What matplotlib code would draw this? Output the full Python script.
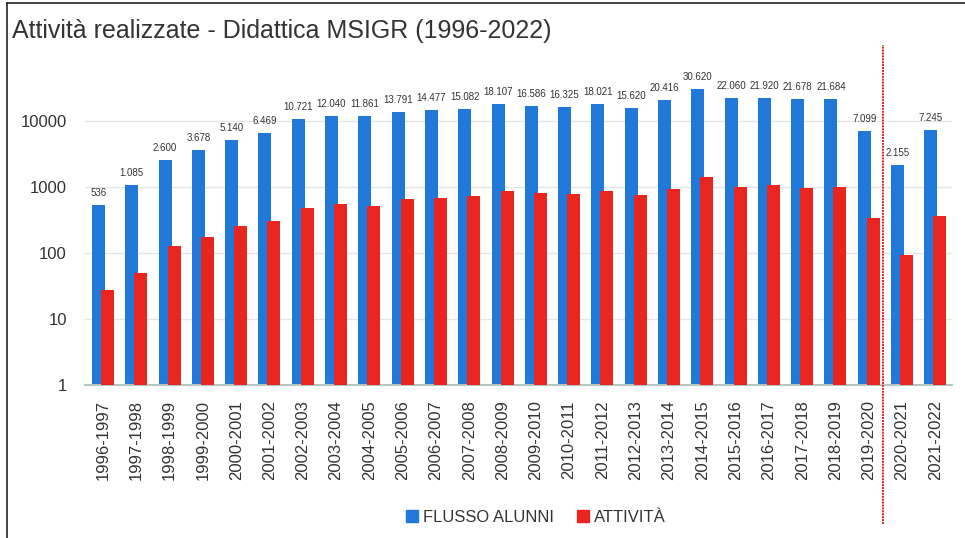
import numpy as np
import matplotlib
matplotlib.use("Agg")
import matplotlib.pyplot as plt
import matplotlib.lines as mlines
from matplotlib.patches import Patch

plt.rcParams['font.family'] = ['Liberation Sans', 'DejaVu Sans']

years = ["1996-1997", "1997-1998", "1998-1999", "1999-2000", "2000-2001",
         "2001-2002", "2002-2003", "2003-2004", "2004-2005", "2005-2006",
         "2006-2007", "2007-2008", "2008-2009", "2009-2010", "2010-2011",
         "2011-2012", "2012-2013", "2013-2014", "2014-2015", "2015-2016",
         "2016-2017", "2017-2018", "2018-2019", "2019-2020", "2020-2021",
         "2021-2022"]
alunni = [536, 1085, 2600, 3678, 5140, 6469, 10721, 12040, 11861, 13791,
          14477, 15082, 18107, 16586, 16325, 18021, 15620, 20416, 30620,
          22060, 21920, 21678, 21684, 7099, 2155, 7245]
attivita = [27, 49, 128, 173, 259, 305, 479, 552, 510, 665, 689, 722, 879,
            802, 783, 879, 748, 922, 1432, 989, 1060, 966, 989, 335, 93, 360]

blue = "#2079d9"
red = "#e8261f"

fig = plt.figure(figsize=(9.65, 5.38), dpi=100)
ax = fig.add_axes([0.0881, 0.2844, 0.8984, 0.632])

x = np.arange(len(years))
ax.bar(x - 0.135, alunni, width=0.39, color=blue, zorder=2)
ax.bar(x + 0.135, attivita, width=0.39, color=red, zorder=3)

ax.set_yscale('log')
ax.set_ylim(1, 10 ** 5.15)
ax.set_xlim(-0.54, 25.5)
ax.set_yticks([1, 10, 100, 1000, 10000])
ax.set_yticklabels(["1", "10", "100", "1000", "10000"])
ax.minorticks_off()
ax.yaxis.grid(True, color="#e6e6e6", linewidth=1, zorder=0)
ax.set_axisbelow(True)

ax.set_xticks(x)
ax.set_xticklabels(years, rotation=90, fontsize=12, color="#333333")
ax.tick_params(axis='x', length=0, pad=11)
ax.tick_params(axis='y', length=0, pad=13, labelsize=12, labelcolor="#333333")

for s in ['top', 'right', 'left']:
    ax.spines[s].set_visible(False)
ax.spines['bottom'].set_color("#b5c7c3")
ax.spines['bottom'].set_linewidth(1.5)

# value labels above the blue bars (Italian thousands separator)
for xi, v in zip(x, alunni):
    lab = f"{v:,}".replace(",", ".")
    ax.annotate(lab, (xi - 0.135, v), xytext=(0, 5), textcoords='offset points',
                ha='center', va='bottom', fontsize=7, color="#333333")

# dotted separator
ax.axvline(23.43, ymin=-0.41, ymax=1.0, color="#e02020", linestyle=(0, (1, 0.5)),
           linewidth=1.4, clip_on=False, zorder=4)

handles = [Patch(color=blue, label="FLUSSO ALUNNI"), Patch(color=red, label="ATTIVITÀ")]
fig.legend(handles=handles, loc='center', bbox_to_anchor=(0.555, 0.038), ncol=2,
           frameon=False, fontsize=12, handlelength=0.7, handleheight=0.7,
           handletextpad=0.3, columnspacing=1.4, labelcolor="#333333")

fig.text(0.012, 0.943, "Attività realizzate - Didattica MSIGR (1996-2022)",
         fontsize=18, color="#333333", va='center', ha='left')

# frame edges of the original box
fig.add_artist(mlines.Line2D([0.007, 0.007], [0, 0.995], transform=fig.transFigure,
                             color="#222222", linewidth=1.2))
fig.add_artist(mlines.Line2D([0.007, 1.0], [0.995, 0.995], transform=fig.transFigure,
                             color="#222222", linewidth=1.2))

fig.savefig("out.png", dpi=100)
